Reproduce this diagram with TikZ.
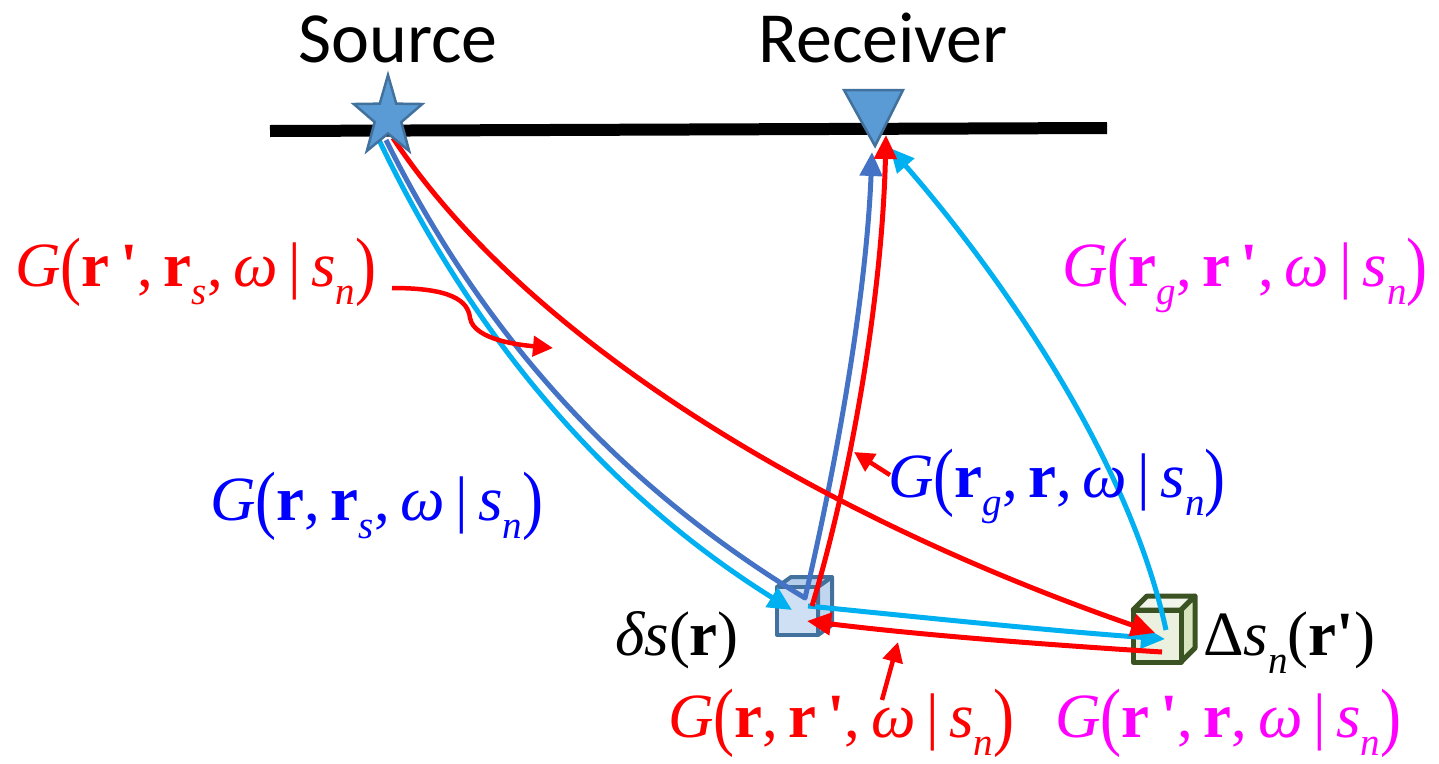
\documentclass[tikz,border=0pt]{standalone}
\usepackage{fontspec}
\usepackage{graphicx}
\setmainfont{Liberation Serif}
\newfontfamily\tnr{Liberation Serif}
\newfontfamily\calibri{Carlito}
\usetikzlibrary{arrows.meta}
\definecolor{lblue}{HTML}{00B0F0}
\definecolor{steel}{HTML}{4472C4}
\definecolor{myred}{HTML}{FF0000}
\definecolor{mymag}{HTML}{FF00FF}
\definecolor{myblue}{HTML}{0000FF}
\definecolor{shapefill}{HTML}{5B9BD5}
\definecolor{shapeedge}{HTML}{41719C}
\definecolor{boxedge}{HTML}{41719C}
\definecolor{boxfront}{HTML}{CFE0F4}
\definecolor{boxtop}{HTML}{B4CDEB}
\definecolor{boxside}{HTML}{C0D6EF}
\definecolor{greenedge}{HTML}{3B5323}
\definecolor{gfront}{HTML}{EBF1DE}
\definecolor{gtop}{HTML}{F2F6EA}
\definecolor{gside}{HTML}{D7E4BD}
\newcommand{\bpar}[1]{\raisebox{-0.07em}{\scalebox{1}[1.2]{\upshape #1}}}
\newcommand{\lsub}[1]{\raisebox{-0.3em}{\scalebox{0.62}{\itshape #1}}}
\newcommand{\br}{\textbf{r}}
\newcommand{\pr}{\,{\upshape\bfseries\textquotesingle}}
\newcommand{\Gl}[2]{{\itshape G}\bpar{(}#1,\,#2,\,{\itshape ω}\,|\,{\itshape s}\lsub{n}\bpar{)}}
\tikzset{
  curve/.style={line width=5pt},
  arr/.style={-{Triangle[length=24pt,width=22pt]}},
  lab/.style={anchor=base west, inner sep=0pt, font=\tnr\fontsize{63}{76}\selectfont},
  title/.style={anchor=base, inner sep=0pt, font=\calibri\fontsize{72}{86}\selectfont},
  markshape/.style={fill=shapefill, draw=shapeedge, line width=2.5pt, line join=miter},
}
\begin{document}
\begin{tikzpicture}[x=1pt,y=-1pt]
\useasboundingbox (0,0) rectangle (1439,763);
% surface
\coordinate (lineL) at (270,131);
\coordinate (lineR) at (1107,128);
\draw[line width=12pt] (lineL) -- (lineR);

% titles
\node[title] (srclab) at (398,62) {Source};
\node[title] (rcvlab) at (883,62) {Receiver};

% anchor coordinates
\coordinate (source) at (388,117);
\coordinate (sA) at (379,140);
\coordinate (sB) at (386,140);
\coordinate (sC) at (393,138);
\coordinate (rA) at (890,148);
\coordinate (rB) at (872,152);
\coordinate (rC) at (886,135);
\coordinate (dA) at (792,610);
\coordinate (dB) at (805,598);
\coordinate (dC) at (812,606);
\coordinate (dD) at (808,606);
\coordinate (dE) at (807,621);
\coordinate (DA) at (1165,639);
\coordinate (DB) at (1166,630);
\coordinate (DC) at (1155,633);
\coordinate (DD) at (1162,652);

% boxes
\begin{scope}[line width=4pt, line join=round]
  \filldraw[fill=boxtop, draw=boxedge] (777,587) -- (791,577) -- (832,577) -- (818,587) -- cycle;
  \filldraw[fill=boxside, draw=boxedge] (818,587) -- (832,577) -- (832,625) -- (818,635) -- cycle;
  \filldraw[fill=boxfront, draw=boxedge] (777,587) rectangle (818,635);
\end{scope}
\coordinate (dbox) at (798,610);
\begin{scope}[line width=5pt, line join=round]
  \filldraw[fill=gtop, draw=greenedge] (1133,610) -- (1147,596) -- (1195,596) -- (1181,610) -- cycle;
  \filldraw[fill=gside, draw=greenedge] (1181,610) -- (1195,596) -- (1195,648) -- (1181,662) -- cycle;
  \filldraw[fill=gfront, draw=greenedge] (1133,610) rectangle (1181,662);
\end{scope}
\coordinate (Dbox) at (1157,636);

% steel blue path source -> delta s -> receiver
\draw[curve, steel, arr, line join=round] (sB) .. controls (478,325) and (610,480) .. (dB)
   .. controls (835,470) and (866,300) .. (rB);
% light blue
\draw[curve, lblue, arr] (sA) .. controls (470,330) and (600,490) .. (dA);
\draw[curve, lblue, arr] (dD) .. controls (900,615) and (1040,630) .. (DA);
\draw[curve, lblue, arr] (DB) .. controls (1125,440) and (975,245) .. (rA);
% red
\draw[curve, myred, arr] (sC) .. controls (520,330) and (800,510) .. (DC);
\draw[curve, myred, arr] (DD) .. controls (1050,645) and (920,635) .. (dE);
\draw[curve, myred, arr] (dC) .. controls (850,480) and (882,300) .. (rC);

% source star and receiver triangle
\filldraw[markshape] plot[samples at={0,...,9}]
  ({388+ifthenelse(mod(\x,2)==0,36,14)*cos(90+36*\x)},
   {117-ifthenelse(mod(\x,2)==0,42,16.5)*sin(90+36*\x)}) -- cycle;
\filldraw[markshape] (844,90) -- (903,90) -- (875,146) -- cycle;
\coordinate (receiver) at (875,115);

% labels
\node[lab, myred] (L1) at (15,286) {\Gl{\br\pr}{\br\lsub{s}}};
\node[lab, mymag] (L2) at (1062,286) {\Gl{\br\lsub{g}}{\br\pr}};
\node[lab, myblue] (L3) at (210,520) {\Gl{\br}{\br\lsub{s}}};
\node[lab, myblue] (L4) at (888,497) {\Gl{\br\lsub{g}}{\br}};
\node[lab, myred] (L5) at (668,737) {\Gl{\br}{\br\pr}};
\node[lab, mymag] (L6) at (1055,737) {\Gl{\br\pr}{\br}};
\node[lab] (L7) at (615,655) {{\itshape δs}(\textbf{r})};
\node[lab] (L8) at (1203,655) {Δ{\itshape s}\lsub{n}(\textbf{r\textquotesingle})};

% label pointers
\coordinate (p1) at (553,348);
\coordinate (p2) at (854,452);
\coordinate (p3) at (898,642);
\coordinate (q1) at (392,288);
\coordinate (q2) at (890,475);
\coordinate (q3) at (882,700);
\draw[line width=4.5pt, myred, -{Triangle[length=20pt,width=20pt]}] (q1) .. controls (450,288) and (468,300) .. (470,318)
   .. controls (474,340) and (520,345) .. (p1);
\draw[line width=4.5pt, myred, -{Triangle[length=20pt,width=20pt]}] (q2) -- (p2);
\draw[line width=4.5pt, myred, -{Triangle[length=20pt,width=20pt]}] (q3) -- (p3);
\end{tikzpicture}
\end{document}
